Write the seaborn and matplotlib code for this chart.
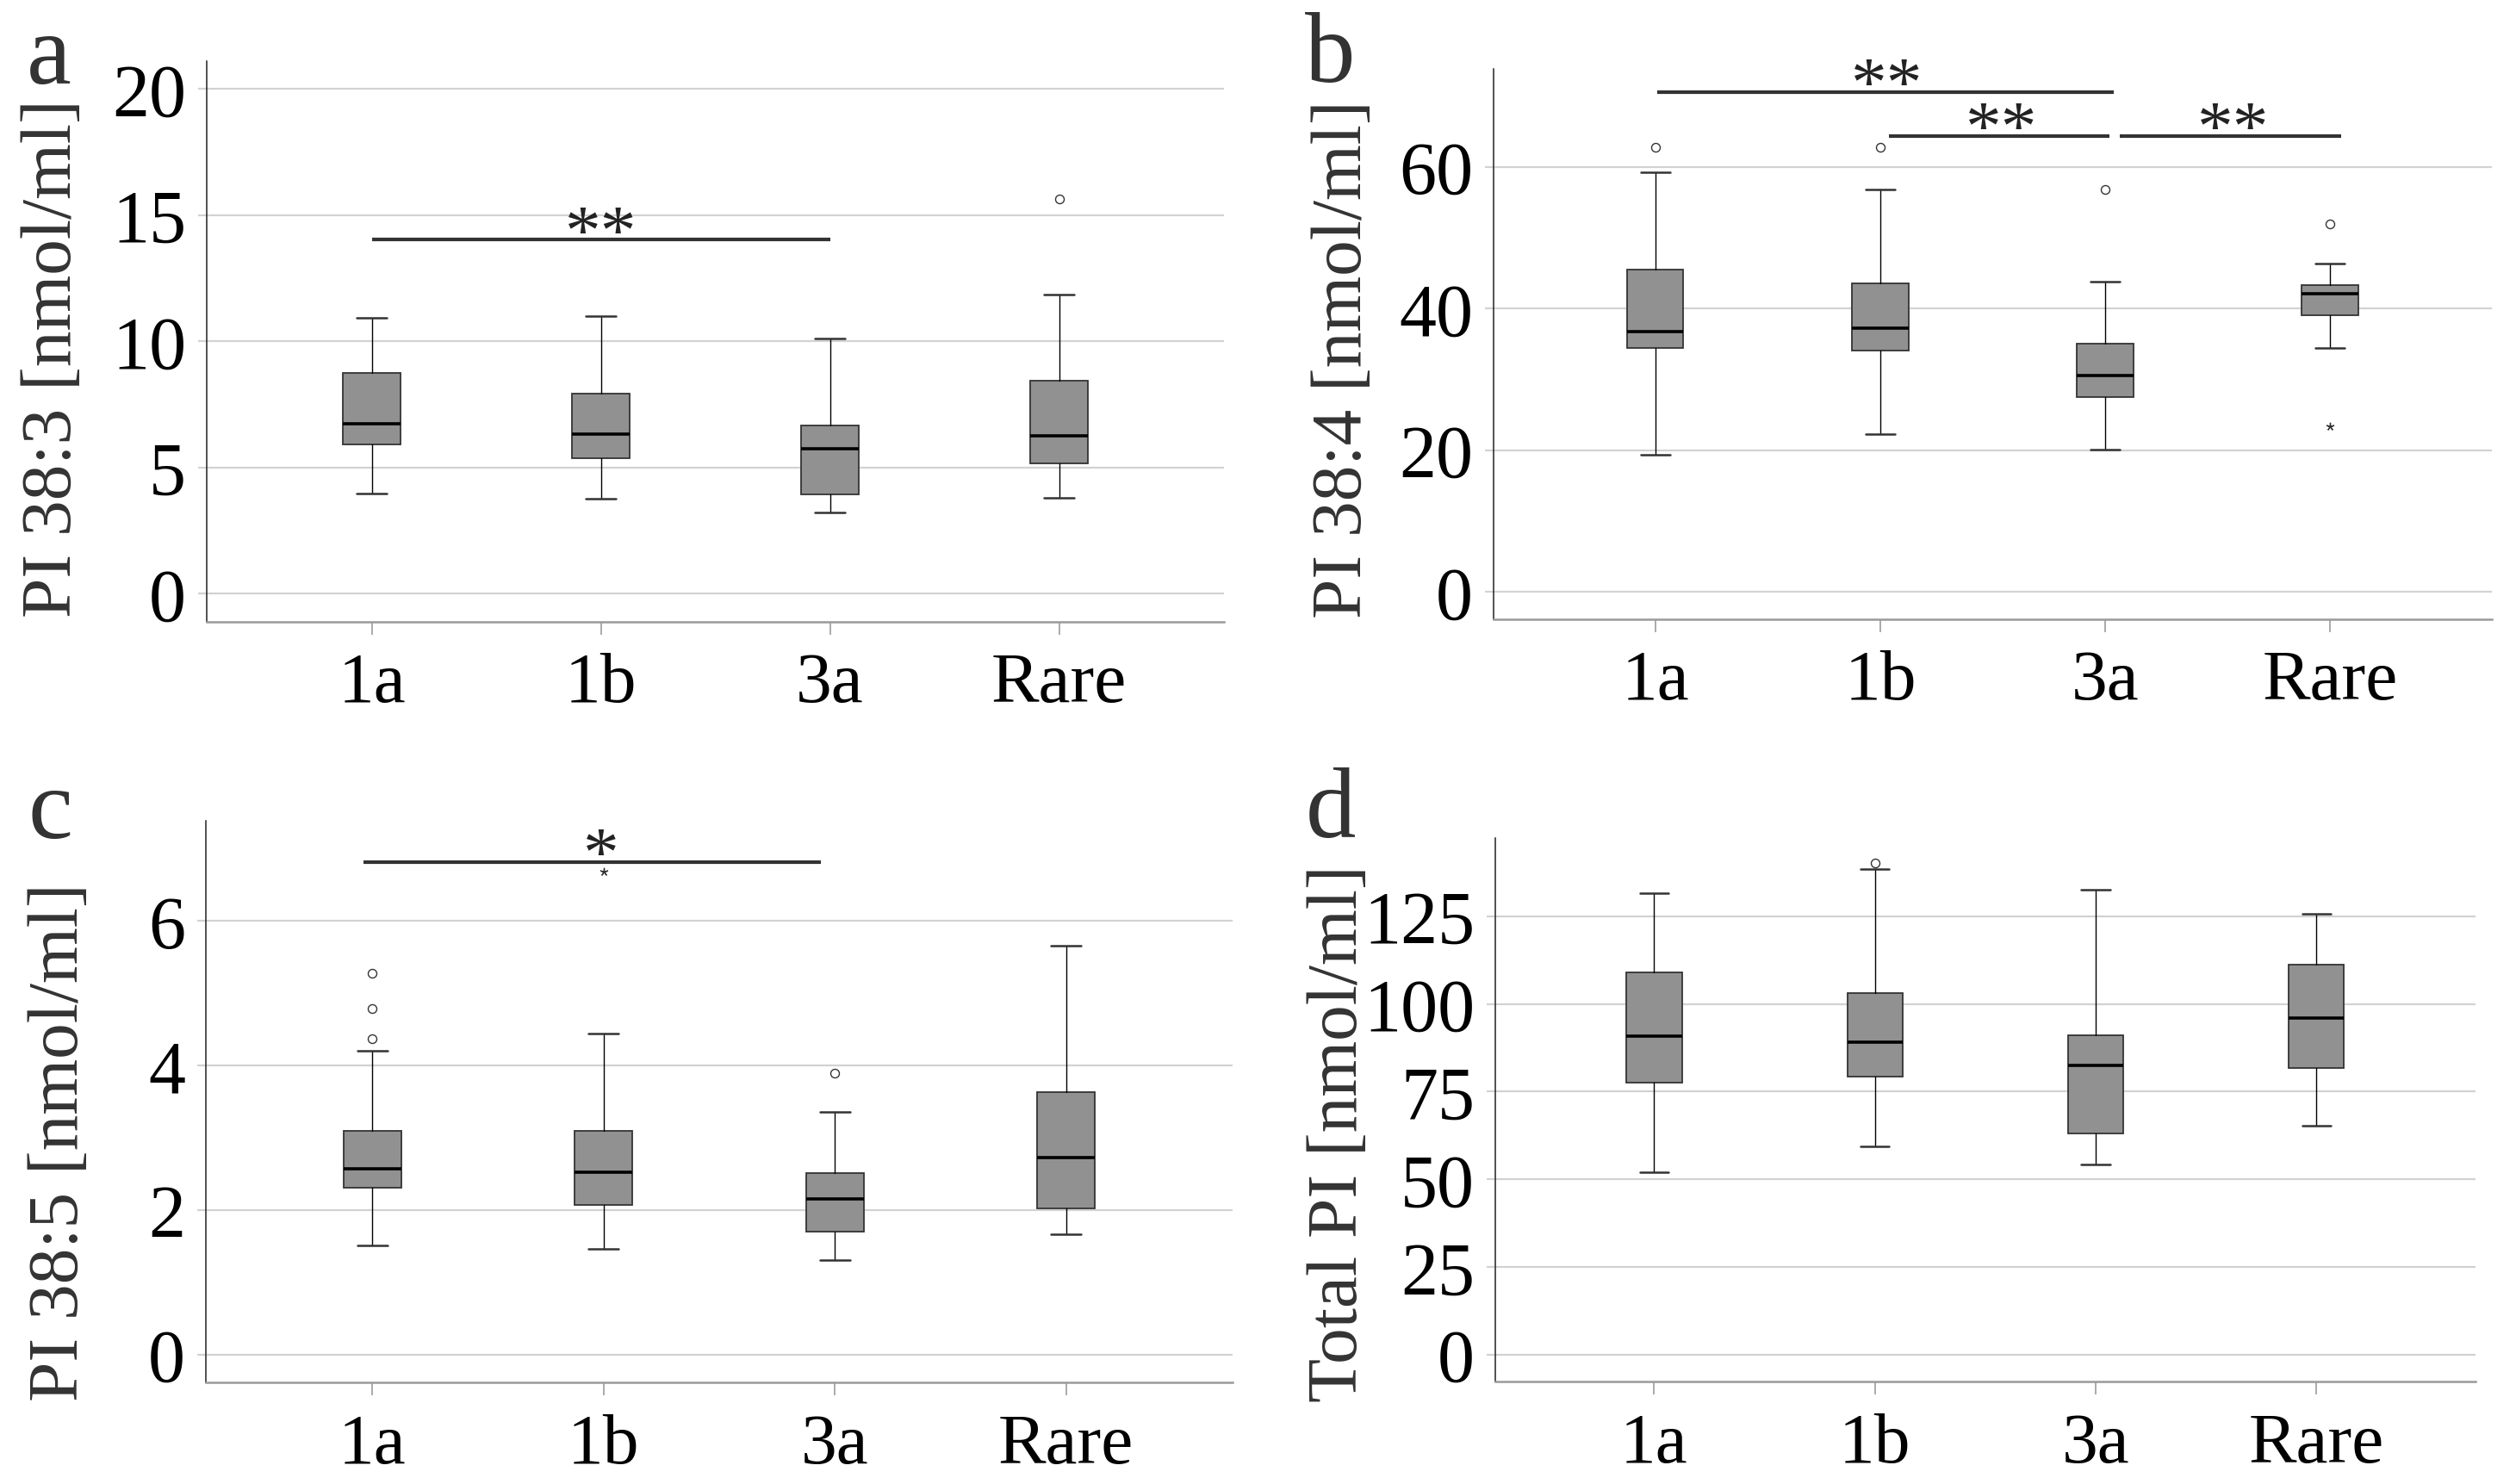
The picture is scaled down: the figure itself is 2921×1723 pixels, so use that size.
import matplotlib
matplotlib.use("Agg")
import matplotlib.pyplot as plt
import seaborn as sns
import pandas as pd

groups = ["1a", "1b", "3a", "Rare"]

# ---- Panel a: PI 38:3 ----
a_whislo = [3.97, 3.76, 3.20, 3.80]
a_q1 = [5.92, 5.36, 3.91, 5.17]
a_med = [6.71, 6.33, 5.73, 6.26]
a_q3 = [8.74, 7.93, 6.67, 8.42]
a_whishi = [10.92, 11.00, 10.11, 11.86]
a_outliers = [[], [], [], [15.64]]
a_extremes = [[], [], [], []]
a_sig = [(0.0, 2.0, 14.02, 1.0, "**")]

# ---- Panel b: PI 38:4 ----
b_whislo = [19.3, 22.2, 20.1, 34.4]
b_q1 = [34.4, 34.0, 27.5, 39.0]
b_med = [36.7, 37.2, 30.5, 42.1]
b_q3 = [45.5, 43.5, 35.0, 43.3]
b_whishi = [59.3, 56.8, 43.8, 46.3]
b_outliers = [[62.75], [62.75], [56.8], [52.0]]
b_extremes = [[], [], [], [23.4]]
b_sig = [(0.01, 2.04, 70.6, 1.03, "**"),
         (1.04, 2.02, 64.4, 1.54, "**"),
         (2.065, 3.05, 64.4, 2.57, "**")]

# ---- Panel c: PI 38:5 ----
c_whislo = [1.51, 1.46, 1.31, 1.67]
c_q1 = [2.31, 2.07, 1.70, 2.02]
c_med = [2.57, 2.52, 2.15, 2.73]
c_q3 = [3.10, 3.10, 2.51, 3.63]
c_whishi = [4.20, 4.44, 3.36, 5.66]
c_outliers = [[4.37, 4.79, 5.28], [], [3.90], []]
c_extremes = [[], [6.68], [], []]
c_sig = [(-0.04, 1.94, 6.82, 0.99, "*")]

# ---- Panel d: Total PI ----
d_whislo = [52.1, 59.4, 54.3, 65.2]
d_q1 = [77.5, 79.3, 63.1, 81.7]
d_med = [90.9, 89.2, 82.4, 95.9]
d_q3 = [109.1, 103.0, 91.1, 111.2]
d_whishi = [131.5, 138.4, 132.6, 125.6]
d_outliers = [[], [140.2], [], []]
d_extremes = [[], [], [], []]
d_sig = []

ylabels = ["PI 38:3 [nmol/ml]", "PI 38:4 [nmol/ml]",
           "PI 38:5 [nmol/ml]", "Total PI [nmol/ml]"]
letters = ["a", "b", "c", "d"]
yticks_list = [[0, 5, 10, 15, 20], [0, 20, 40, 60], [0, 2, 4, 6],
               [0, 25, 50, 75, 100, 125]]
ylims = [(-1.13, 21.1), (-3.9, 73.8), (-0.39, 7.39), (-7.8, 147.4)]

rects = [(0.0822, 0.5806, 0.4043, 0.3776),
         (0.5936, 0.5824, 0.3968, 0.3704),
         (0.0818, 0.0682, 0.4081, 0.3785),
         (0.5943, 0.0688, 0.3896, 0.3664)]
ylabel_pos = [(0.0214, 0.7587), (0.5340, 0.7580), (0.0240, 0.2309), (0.5324, 0.2366)]
letter_pos = [(0.0105, 0.9437), (0.5185, 0.9449), (0.0110, 0.4356), (0.5190, 0.4362)]

panels = [
    (a_whislo, a_q1, a_med, a_q3, a_whishi, a_outliers, a_extremes, a_sig),
    (b_whislo, b_q1, b_med, b_q3, b_whishi, b_outliers, b_extremes, b_sig),
    (c_whislo, c_q1, c_med, c_q3, c_whishi, c_outliers, c_extremes, c_sig),
    (d_whislo, d_q1, d_med, d_q3, d_whishi, d_outliers, d_extremes, d_sig),
]

sns.set_theme(style="whitegrid")
plt.rcParams['font.family'] = ['Liberation Serif', 'DejaVu Serif']

GRID = "#d2d2d2"
fig = plt.figure(figsize=(29.21, 17.24), dpi=100, facecolor="white")

for i, (wlo, q1, med, q3, whi, outs, extr, sig) in enumerate(panels):
    ax = fig.add_axes(rects[i])
    ax.set_facecolor("white")
    stats = [dict(label=g, whislo=wlo[k], q1=q1[k], med=med[k], q3=q3[k],
                  whishi=whi[k], fliers=[]) for k, g in enumerate(groups)]
    ax.bxp(stats, positions=list(range(len(groups))), widths=0.25,
           capwidths=0.13, patch_artist=True, showfliers=False,
           boxprops=dict(facecolor="#919191", edgecolor="#333333", linewidth=1.3),
           medianprops=dict(color="black", linewidth=2.6, solid_capstyle="butt"),
           whiskerprops=dict(color="black", linewidth=1.0),
           capprops=dict(color="#333333", linewidth=1.8))

    # outliers (circles) and extremes (asterisks)
    ox, oy = [], []
    for k, vals in enumerate(outs):
        for v in vals:
            ox.append(k); oy.append(v)
    if ox:
        sns.scatterplot(data=pd.DataFrame({"x": ox, "y": oy}), x="x", y="y", ax=ax,
                        marker="o", s=52, facecolor="white", edgecolor="#333333",
                        linewidth=1.0, zorder=5, legend=False)
    ex, ey = [], []
    for k, vals in enumerate(extr):
        for v in vals:
            ex.append(k); ey.append(v)
    if ex:
        sns.scatterplot(data=pd.DataFrame({"x": ex, "y": ey}), x="x", y="y", ax=ax,
                        marker=(5, 2, 0), s=36, color="#333333",
                        linewidth=1.0, zorder=5, legend=False)

    # significance bars
    for (x0, x1, yv, xt, txt) in sig:
        ax.plot([x0, x1], [yv, yv], color="#333333", linewidth=3.0,
                solid_capstyle="butt", zorder=4)
        ax.annotate(txt, xy=(xt, yv), xytext=(0, -11), textcoords="offset points",
                    ha="center", va="baseline", fontsize=60, color="#222222")

    ax.set_xlim(-0.72, 3.72)
    ax.set_ylim(*ylims[i])
    ax.set_xticks(range(len(groups)))
    ax.set_xticklabels(groups)
    ax.set_yticks(yticks_list[i])
    ax.set_xlabel("")
    ax.set_ylabel("")
    ax.grid(axis="y", color=GRID, linewidth=1.6)
    ax.grid(axis="x", visible=False)
    ax.set_axisbelow(True)
    for s in ["top", "right"]:
        ax.spines[s].set_visible(False)
    ax.spines["left"].set_color("#222222")
    ax.spines["left"].set_linewidth(1.1)
    ax.spines["bottom"].set_color("#9a9a9a")
    ax.spines["bottom"].set_linewidth(1.8)
    ax.tick_params(axis="y", left=True, length=7.2, width=1.6, color=GRID,
                   pad=10, labelsize=62, labelcolor="black")
    ax.tick_params(axis="x", bottom=True, length=11, width=1.4, color="#aaaaaa",
                   pad=14, labelsize=60, labelcolor="black")

    fig.text(ylabel_pos[i][0], ylabel_pos[i][1], ylabels[i], rotation=90,
             ha="center", va="center", fontsize=60, color="#333333")
    fig.text(letter_pos[i][0], letter_pos[i][1], letters[i], ha="left",
             va="baseline", fontsize=84, color="#333333")

fig.savefig("out.png", dpi=100, facecolor="white")
